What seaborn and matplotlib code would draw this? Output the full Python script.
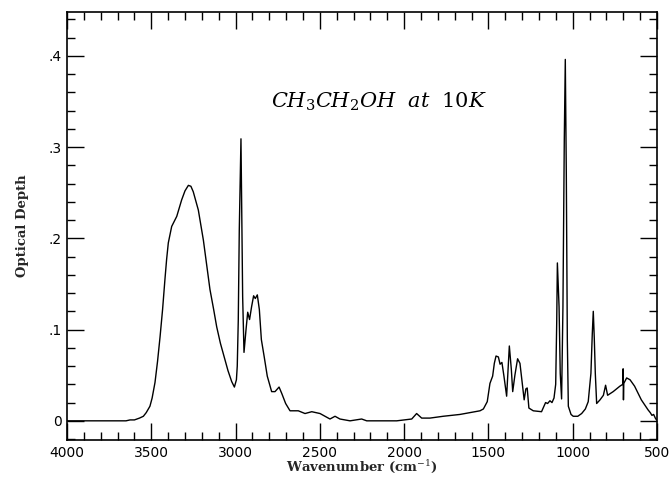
import matplotlib
matplotlib.use('Agg')
import matplotlib.pyplot as plt
from matplotlib.ticker import MultipleLocator, FixedLocator
import seaborn as sns
import pandas as pd

# wavenumber (cm-1) and optical depth
wavenumber = [
    4000, 3900, 3800, 3700, 3650, 3626, 3600, 3570, 3547, 3530, 3508, 3495,
    3478, 3463, 3448, 3433, 3419, 3409, 3399, 3379, 3349, 3320, 3300, 3280,
    3265, 3251, 3221, 3191, 3152, 3130, 3112, 3090, 3063, 3045, 3023,
    3007, 2995, 2990, 2984, 2978, 2968, 2958, 2950, 2938, 2928, 2917, 2905,
    2893, 2883, 2871, 2859, 2847, 2830, 2812, 2786, 2766, 2742, 2726, 2703,
    2677, 2658, 2628, 2588, 2548, 2499, 2440, 2410, 2381, 2321, 2252, 2222,
    2143, 2044, 1955, 1926, 1896, 1847, 1768, 1669, 1609, 1550, 1530, 1507,
    1491, 1475, 1465, 1455, 1441, 1431, 1420, 1408, 1392, 1376, 1364, 1356,
    1343, 1327, 1313, 1299, 1288, 1278, 1270, 1260, 1234, 1185, 1171, 1161,
    1149, 1135, 1123, 1111, 1101, 1095, 1091, 1081, 1074, 1066, 1058, 1050,
    1044, 1038, 1032, 1026, 1010, 997, 970, 947, 925, 908, 892, 884, 878, 872,
    866, 858, 838, 818, 805, 793, 760, 720, 703, 701, 699, 697, 680, 660, 633,
    593, 553, 540, 530, 520, 510, 503,
]
depth = [
    0.000, 0.000, 0.000, 0.000, 0.000, 0.001, 0.001, 0.003, 0.005, 0.009,
    0.016, 0.025, 0.042, 0.065, 0.092, 0.122, 0.155, 0.177, 0.195, 0.213,
    0.224, 0.242, 0.252, 0.258, 0.257, 0.251, 0.231, 0.198, 0.144, 0.122,
    0.103, 0.085, 0.067, 0.055, 0.043, 0.037, 0.045, 0.060, 0.110, 0.209,
    0.309, 0.136, 0.075, 0.100, 0.119, 0.111, 0.125, 0.137, 0.134, 0.138,
    0.122, 0.089, 0.070, 0.049, 0.032, 0.032, 0.037, 0.030, 0.019, 0.011,
    0.011, 0.011, 0.008, 0.010, 0.008, 0.002, 0.005, 0.002, 0.000, 0.002,
    0.000, 0.000, 0.000, 0.002, 0.008, 0.003, 0.003, 0.005, 0.007, 0.009,
    0.011, 0.013, 0.021, 0.041, 0.049, 0.063, 0.071, 0.070, 0.062, 0.064,
    0.049, 0.027, 0.082, 0.056, 0.032, 0.050, 0.068, 0.063, 0.041, 0.023,
    0.035, 0.036, 0.014, 0.011, 0.010, 0.016, 0.020, 0.019, 0.022, 0.020,
    0.025, 0.040, 0.107, 0.173, 0.125, 0.052, 0.024, 0.125, 0.308, 0.396,
    0.271, 0.089, 0.016, 0.007, 0.005, 0.005, 0.008, 0.013, 0.021, 0.052,
    0.095, 0.120, 0.090, 0.052, 0.019, 0.023, 0.028, 0.039, 0.028, 0.032,
    0.038, 0.040, 0.057, 0.023, 0.041, 0.047, 0.045, 0.038, 0.023, 0.012,
    0.009, 0.006, 0.007, 0.003, 0.001,
]

x_ticks = [4000, 3500, 3000, 2500, 2000, 1500, 1000, 500]
y_ticks = [0, 0.1, 0.2, 0.3, 0.4]
y_ticklabels = ['0', '.1', '.2', '.3', '.4']

df = pd.DataFrame({'wn': wavenumber, 'od': depth})

sns.set_style('ticks')
plt.rcParams['font.family'] = ['DejaVu Sans']
plt.rcParams['mathtext.fontset'] = 'dejavuserif'
plt.rcParams['text.color'] = 'black'
plt.rcParams['xtick.labelcolor'] = 'black'
plt.rcParams['ytick.labelcolor'] = 'black'

fig = plt.figure(figsize=(6.7, 4.78), dpi=100)
ax = fig.add_axes([0.1, 0.0795, 0.8806, 0.8955])

sns.lineplot(data=df, x='wn', y='od', color='black', lw=1.0, ax=ax, sort=False)

ax.set_xlim(4000, 500)
ax.set_ylim(-0.021, 0.448)
ax.xaxis.set_major_locator(FixedLocator(x_ticks))
ax.xaxis.set_minor_locator(MultipleLocator(100))
ax.yaxis.set_major_locator(FixedLocator(y_ticks))
ax.yaxis.set_minor_locator(MultipleLocator(0.02))
ax.set_yticklabels(y_ticklabels)
ax.tick_params(which='both', direction='in', top=True, right=True,
               labelsize=10, color='black', width=1.0)
ax.tick_params(which='major', length=12, pad=4)
ax.tick_params(which='minor', length=6)
for s in ax.spines.values():
    s.set_linewidth(1.2)
    s.set_color('black')

ax.set_xlabel(r'Wavenumber (cm$^{-1}$)', family='DejaVu Serif', fontsize=9.5,
              weight='bold', labelpad=-1)
ax.set_ylabel('Optical Depth', family='DejaVu Serif', fontsize=9.5,
              weight='bold', labelpad=14)

ax.text(2150, 0.35, r'$\mathit{CH_3CH_2OH\ \ at\ \ 10K}$', fontsize=15,
        ha='center', va='center', color='black')

fig.savefig('out.png', dpi=100)
